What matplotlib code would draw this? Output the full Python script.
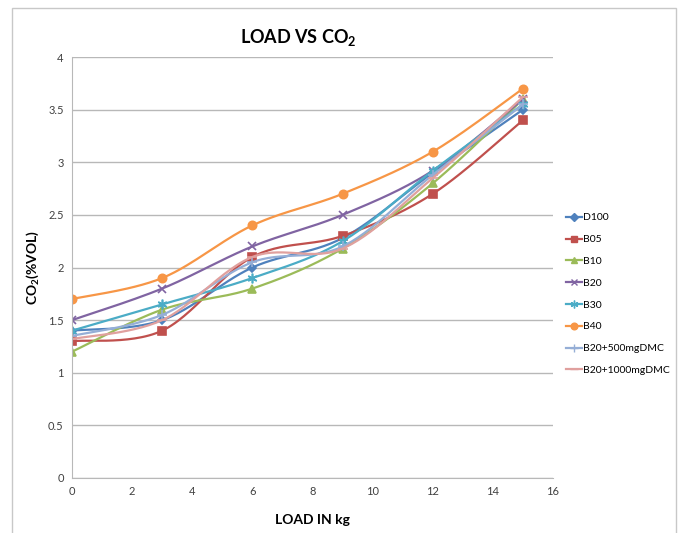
import matplotlib
matplotlib.use('Agg')
import matplotlib.pyplot as plt
import numpy as np
from matplotlib.patches import Rectangle

# Load (kg) and CO2 (% vol) readings per fuel blend
load = [0, 3, 6, 9, 12, 15]
series_names = ['D100', 'B05', 'B10', 'B20', 'B30', 'B40',
                'B20+500mgDMC', 'B20+1000mgDMC']
d100 = [1.4, 1.5, 2.0, 2.28, 2.9, 3.5]
b05 = [1.3, 1.4, 2.1, 2.3, 2.7, 3.4]
b10 = [1.2, 1.6, 1.8, 2.18, 2.8, 3.6]
b20 = [1.5, 1.8, 2.2, 2.5, 2.92, 3.6]
b30 = [1.4, 1.65, 1.9, 2.25, 2.92, 3.55]
b40 = [1.7, 1.9, 2.4, 2.7, 3.1, 3.7]
b20_500 = [1.35, 1.55, 2.05, 2.2, 2.88, 3.55]
b20_1000 = [1.32, 1.5, 2.1, 2.18, 2.85, 3.62]

values = [d100, b05, b10, b20, b30, b40, b20_500, b20_1000]
colors = ['#4F81BD', '#C0504D', '#9BBB59', '#8064A2', '#4BACC6', '#F79646',
          '#95AED6', '#E0A09E']
markers = ['D', 's', '^', 'x', (6, 2, 0), 'o', '+', '_']
msizes = [4.5, 5.5, 5.5, 6, 7, 6, 7, 7]

FONT = ['Lato', 'DejaVu Sans']
plt.rcParams['mathtext.fontset'] = 'custom'
plt.rcParams['mathtext.rm'] = 'Lato'
plt.rcParams['mathtext.bf'] = 'Lato:bold'


def smooth(x, y, n=30):
    # Excel-style smoothed line (Catmull-Rom Bezier through the points)
    x = np.asarray(x, float)
    y = np.asarray(y, float)
    px = np.concatenate([[x[0]], x, [x[-1]]])
    py = np.concatenate([[y[0]], y, [y[-1]]])
    xs, ys = [], []
    t = np.linspace(0, 1, n)
    for i in range(1, len(px) - 2):
        p0, p1, p2, p3 = (np.array([px[j], py[j]]) for j in range(i - 1, i + 3))
        c1 = p1 + (p2 - p0) / 6
        c2 = p2 - (p3 - p1) / 6
        b = ((1 - t) ** 3)[:, None] * p1 + (3 * (1 - t) ** 2 * t)[:, None] * c1 \
            + (3 * (1 - t) * t ** 2)[:, None] * c2 + (t ** 3)[:, None] * p2
        xs.extend(b[:, 0])
        ys.extend(b[:, 1])
    return xs, ys


fig = plt.figure(figsize=(6.83, 5.33), dpi=100)
fig.patches.append(Rectangle((12 / 683, -0.01), 664 / 683, 1 - 8 / 533 + 0.01,
                             transform=fig.transFigure, fill=False,
                             edgecolor='#C8C8C8', linewidth=1))
ax = fig.add_axes([72 / 683, 1 - 478 / 533, 481 / 683, 421 / 533])

handles = []
for name, vals, c, m, ms in zip(series_names, values, colors, markers, msizes):
    sx, sy = smooth(load, vals)
    ax.plot(sx, sy, color=c, linewidth=1.6)
    ax.plot(load, vals, linestyle='none', marker=m, color=c, markersize=ms,
            markeredgewidth=1.2)
    h, = ax.plot([], [], color=c, linewidth=1.6, marker=m, markersize=ms * 0.8,
                 markeredgewidth=1.0, label=name)
    handles.append(h)

ax.set_xlim(0, 16)
ax.set_ylim(0, 4)
ax.set_xticks(np.arange(0, 17, 2))
ax.set_yticks(np.arange(0, 4.01, 0.5))
ax.set_yticklabels(['0', '0.5', '1', '1.5', '2', '2.5', '3', '3.5', '4'])
ax.yaxis.grid(True, color='#B8B8B8', linewidth=1)
ax.set_axisbelow(True)
for s in ['top', 'right']:
    ax.spines[s].set_visible(False)
for s in ['left', 'bottom']:
    ax.spines[s].set_color('#B8B8B8')
ax.tick_params(length=0, labelsize=8, colors='#404040', pad=6)
for lab in ax.get_xticklabels() + ax.get_yticklabels():
    lab.set_family(FONT)

ax.set_title(r'LOAD VS CO$_\mathbf{2}$', fontsize=13, fontweight='bold',
             family=FONT, pad=10, x=0.47)
ax.set_xlabel('LOAD IN kg', fontsize=10, fontweight='bold', family=FONT,
              labelpad=12)
ax.set_ylabel(r'CO$_\mathbf{2}$(%VOL)', fontsize=10, fontweight='bold',
              family=FONT, labelpad=5)

leg = ax.legend(handles=handles, loc='upper left',
                bbox_to_anchor=(561 / 683, 1 - 208 / 533),
                bbox_transform=fig.transFigure, frameon=False,
                prop={'family': FONT, 'size': 7.5}, handlelength=1.5,
                handletextpad=0.15, labelspacing=1.2, borderpad=0)

fig.savefig('out.png', dpi=100)
